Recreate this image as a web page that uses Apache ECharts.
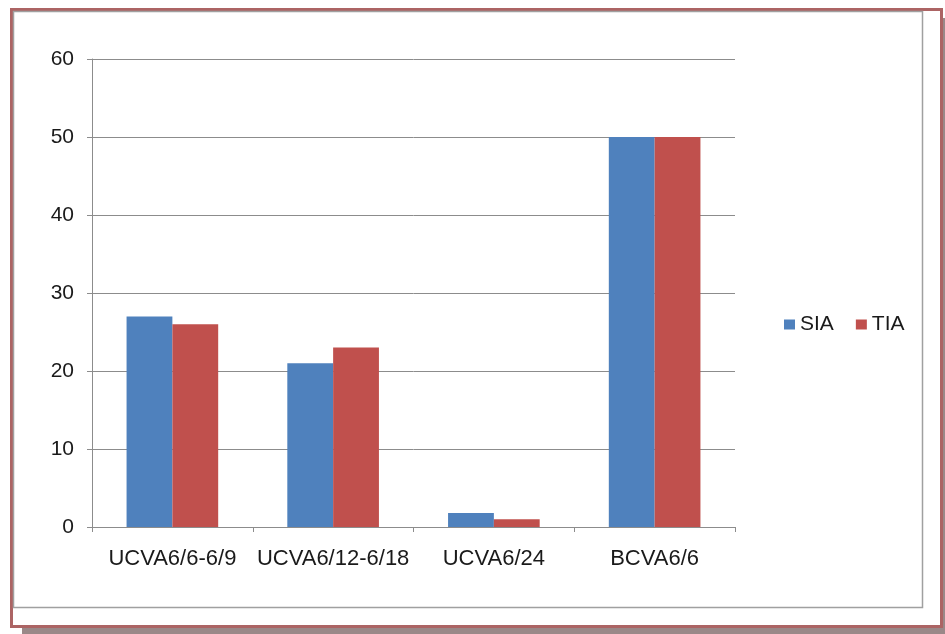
<!DOCTYPE html>
<html>
<head>
<meta charset="utf-8">
<script src="https://cdn.jsdelivr.net/npm/echarts@6/dist/echarts.min.js"></script>
<style>
html,body{margin:0;padding:0;background:#fff;}
#c{width:945px;height:634px;}
</style>
</head>
<body>
<div id="c"></div>
<script>
var categories = ['UCVA6/6-6/9', 'UCVA6/12-6/18', 'UCVA6/24', 'BCVA6/6'];
var siaValues = [27, 21, 1.8, 50];
var tiaValues = [26, 23, 1, 50];
var yTicks = [0, 10, 20, 30, 40, 50, 60];

var chart = echarts.init(document.getElementById('c'), null, {renderer: 'canvas'});
var font = 'Liberation Sans, Arial, sans-serif';
chart.setOption({
  animation: false,
  backgroundColor: '#ffffff',
  graphic: [
    {type: 'rect', z: -10, shape: {x: 22, y: 18, width: 923, height: 616}, style: {fill: '#9a8888'}},
    {type: 'rect', z: -9, shape: {x: 11.5, y: 9.5, width: 930, height: 617}, style: {fill: '#ffffff', stroke: '#ac6464', lineWidth: 3}},
    {type: 'rect', z: -8, shape: {x: 13.5, y: 11.5, width: 909, height: 596}, style: {fill: 'none', stroke: '#a0a0a0', lineWidth: 1.5}}
  ],
  color: ['#4f81bd', '#c0504d'],
  legend: {
    data: ['SIA', 'TIA'],
    left: 779,
    top: 309,
    itemWidth: 11,
    itemHeight: 10,
    itemGap: 22,
    icon: 'rect',
    textStyle: {fontFamily: font, fontSize: 21, color: '#1a1a1a'}
  },
  grid: {left: 92, right: 210, top: 59, bottom: 107, containLabel: false},
  xAxis: {
    type: 'category',
    data: categories,
    boundaryGap: true,
    axisLine: {lineStyle: {color: '#8c8c8c', width: 1}},
    axisTick: {show: true, length: 5, lineStyle: {color: '#8c8c8c'}},
    axisLabel: {fontFamily: font, fontSize: 22, color: '#1a1a1a', margin: 21, interval: 0}
  },
  yAxis: {
    type: 'value',
    min: 0,
    max: 60,
    interval: 10,
    axisLine: {show: true, lineStyle: {color: '#8c8c8c', width: 1}},
    axisTick: {show: true, length: 5, lineStyle: {color: '#8c8c8c'}},
    splitLine: {show: true, lineStyle: {color: '#8c8c8c', width: 1}},
    axisLabel: {fontFamily: font, fontSize: 21, color: '#1a1a1a', margin: 18,
      formatter: function (v) { return yTicks.indexOf(v) >= 0 ? String(v) : ''; }}
  },
  series: [
    {name: 'SIA', type: 'bar', data: siaValues, barGap: '0%', barCategoryGap: '43%'},
    {name: 'TIA', type: 'bar', data: tiaValues, barGap: '0%', barCategoryGap: '43%'}
  ]
});
</script>
</body>
</html>
